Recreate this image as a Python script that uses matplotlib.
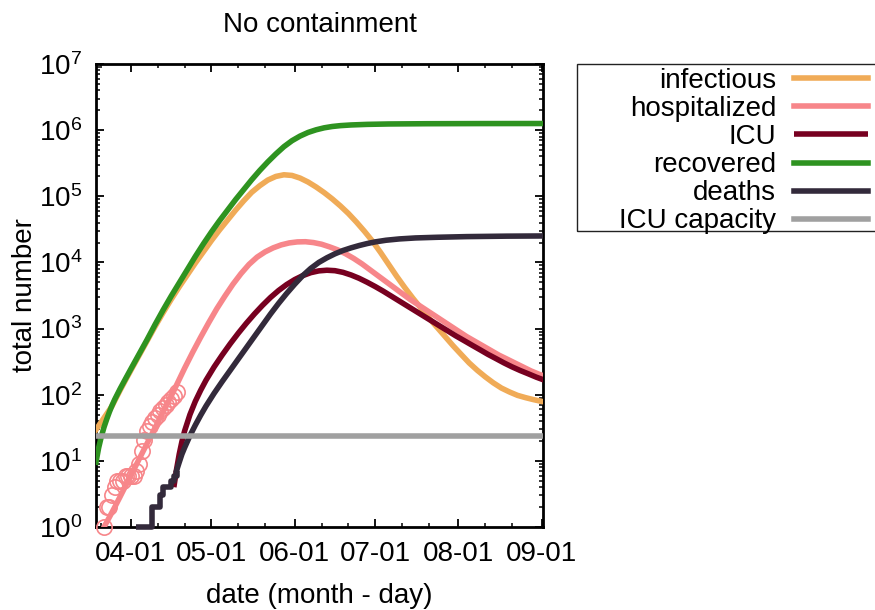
"""No containment scenario: model curves on a log scale."""
import matplotlib

matplotlib.use("Agg")
import matplotlib.dates as mdates  # noqa: E402
import matplotlib.pyplot as plt  # noqa: E402
import numpy as np  # noqa: E402
from matplotlib.patches import Rectangle  # noqa: E402
from matplotlib.ticker import LogLocator, NullFormatter  # noqa: E402

plt.rcParams["font.family"] = ["Liberation Sans", "DejaVu Sans"]
plt.rcParams["mathtext.fontset"] = "custom"
plt.rcParams["mathtext.rm"] = "Liberation Sans"

BASE = np.datetime64("2020-04-01")

# --- data (days counted from 2020-04-01) ---
recovered_days = [-13, -12, -11, -10, -9, -8, -7, -6, -4, -2, 0, 3, 6, 9, 12, 15, 18, 21,
                  24, 27, 30, 33, 36, 39, 42, 45, 48, 51, 54, 57, 60, 63, 66, 69, 72, 75,
                  78, 82, 88, 96, 110, 130, 154]
recovered = [9.55, 15.8, 23.4, 32.4, 42.7, 55, 69.2, 85.1, 123, 174, 245, 407, 676, 1148,
             1905, 3090, 4898, 7762, 12300, 19050, 28840, 42660, 61660, 89130, 125900,
             177800, 245500, 331100, 436500, 562300, 691800, 812800, 922600, 1012000,
             1084000, 1135000, 1169000, 1197000, 1222000, 1239000, 1250000, 1256000,
             1259000]

infectious_days = [-13, -12, -11, -10, -9, -8, -7, -6, -4, -2, 0, 3, 6, 9, 12, 15, 18, 21,
                   24, 27, 30, 33, 36, 39, 42, 45, 48, 51, 54, 57, 60, 63, 66, 69, 72, 75,
                   78, 81, 84, 87, 90, 93, 96, 99, 102, 105, 108, 111, 114, 117, 120, 123,
                   126, 129, 132, 135, 138, 141, 144, 147, 150, 154]
infectious = [29.5, 33.9, 38.9, 44.7, 51.3, 58.9, 67.6, 81.3, 117, 166, 234, 389, 646, 1072,
              1738, 2754, 4266, 6457, 9772, 14450, 21380, 30900, 43650, 61660, 85110,
              114800, 144500, 175800, 199500, 211300, 206500, 188400, 164100, 138000,
              113500, 91200, 71610, 54950, 40740, 29510, 20890, 14130, 9333, 6166, 4169,
              2884, 2042, 1445, 1047, 759, 550, 407, 302, 234, 186, 151, 126, 110, 97.7,
              90.2, 84.1, 77.6]

hosp_days = [-10, -8, -6, -4, -2, 0, 2, 4, 6, 8, 10, 12, 14, 16, 18, 20, 23, 26, 29, 32,
             35, 38, 41, 44, 47, 50, 53, 56, 59, 62, 65, 68, 71, 74, 77, 80, 83, 86, 89,
             92, 95, 98, 101, 104, 107, 110, 113, 116, 119, 122, 125, 128, 131, 134, 137,
             140, 143, 146, 149, 152, 154]
hospitalized = [1, 1.41, 2.0, 2.88, 4.17, 6.03, 8.71, 12.6, 18.2, 26.3, 38.0, 55.0, 79.4,
                115, 170, 251, 437, 741, 1230, 1995, 3090, 4677, 6761, 9333, 12020, 14450,
                16600, 18410, 19720, 20420, 20560, 19950, 18840, 17180, 15490, 13490,
                11480, 9550, 7762, 6310, 5129, 4169, 3388, 2754, 2291, 1905, 1585, 1318,
                1096, 912, 759, 646, 550, 468, 398, 347, 302, 263, 229, 204, 191]

hosp_data_days = list(range(-10, 18))
hosp_data = [1, 2, 2, 3, 4, 5, 5, 5, 6, 6, 6, 6, 7, 9, 14, 21, 28, 34, 39, 44, 50, 56,
             62, 69, 77, 86, 96, 110]

icu_days = [16, 17, 18, 19, 20, 22, 24, 26, 28, 31, 34, 37, 40, 43, 46, 49, 52, 55, 58,
            61, 64, 67, 70, 73, 76, 79, 82, 85, 88, 91, 94, 97, 100, 103, 106, 109, 112,
            115, 118, 121, 124, 127, 130, 133, 136, 139, 142, 145, 148, 151, 154]
icu = [4, 7.4, 12.6, 19.5, 28.2, 50.1, 79.4, 117, 166, 263, 398, 589, 851, 1202, 1660,
       2239, 2951, 3758, 4624, 5495, 6310, 7000, 7447, 7621, 7499, 7079, 6457, 5754, 5012,
       4315, 3673, 3090, 2600, 2188, 1841, 1549, 1303, 1096, 923, 776, 661, 562, 479, 407,
       351, 302, 263, 232, 207, 184, 166]

deaths_early_days = [2, 8, 11, 12, 15, 16, 17]
deaths_early = [1, 2, 3, 4, 5, 6, 7]
deaths_days = [17, 18, 19, 20, 22, 24, 26, 28, 31, 34, 37, 40, 43, 46, 49, 52, 55, 58, 61,
               64, 67, 70, 73, 76, 79, 82, 85, 88, 91, 95, 100, 106, 114, 125, 140, 154]
deaths = [7.1, 9.5, 12.6, 15.8, 24.0, 34.7, 49.0, 67.6, 105, 158, 234, 347, 513, 759, 1122,
          1660, 2399, 3388, 4677, 6310, 8128, 10000, 11750, 13490, 15140, 16600, 17990,
          19280, 20420, 21630, 22650, 23440, 23990, 24550, 24950, 25120]

icu_capacity = 24

labels = ["infectious", "hospitalized", "ICU", "recovered", "deaths", "ICU capacity"]
colors = ["#f0ab57", "#f7868a", "#770020", "#2e9320", "#332a3b", "#a0a0a0"]


def to_dates(days):
    return BASE + np.array(days, dtype="timedelta64[D]")


fig = plt.figure(figsize=(8.75, 6.1), dpi=100)
ax = fig.add_axes([0.1097, 0.1361, 0.5109, 0.7590])

lw = 4
l_inf, = ax.plot(to_dates(infectious_days), infectious, color=colors[0], lw=lw, zorder=3)
l_hosp, = ax.plot(to_dates(hosp_days), hospitalized, color=colors[1], lw=lw, zorder=3)
ax.plot(to_dates(hosp_data_days), hosp_data, "o", ms=11, mfc="none", mec=colors[1],
        mew=1.2, zorder=3, clip_on=False)
l_icu, = ax.plot(to_dates(icu_days), icu, color=colors[2], lw=lw, zorder=3,
                 solid_capstyle="butt")
l_rec, = ax.plot(to_dates(recovered_days), recovered, color=colors[3], lw=lw, zorder=3)
ax.plot(to_dates(deaths_early_days), deaths_early, color=colors[4], lw=lw, zorder=3,
        drawstyle="steps-post", solid_capstyle="butt", clip_on=False)
l_dea, = ax.plot(to_dates(deaths_days), deaths, color=colors[4], lw=lw, zorder=3)
l_cap = ax.axhline(icu_capacity, color=colors[5], lw=lw, zorder=4)

ax.set_yscale("log")
ax.set_ylim(1, 1e7)
ax.set_xlim(BASE - np.timedelta64(13, "D"), BASE + np.timedelta64(153 * 24 + 12, "h"))
ax.yaxis.set_major_locator(LogLocator(base=10, numticks=10))
ax.yaxis.set_minor_locator(LogLocator(base=10, subs=np.arange(2, 10), numticks=20))
ax.yaxis.set_minor_formatter(NullFormatter())
ax.xaxis.set_major_locator(mdates.MonthLocator())
ax.xaxis.set_minor_locator(mdates.DayLocator(bymonthday=[11, 21]))
ax.xaxis.set_major_formatter(mdates.DateFormatter("%m-%d"))

ax.tick_params(which="both", direction="in", top=True, right=True, labelsize=20)
ax.tick_params(which="major", length=6, width=1.3)
ax.tick_params(which="minor", length=3, width=1.1)
ax.tick_params(axis="x", pad=10)
ax.tick_params(axis="y", pad=10)
for sp in ax.spines.values():
    sp.set_linewidth(2)

ax.set_title("No containment", fontsize=20, pad=23)
ax.set_xlabel("date (month - day)", fontsize=20)
ax.set_ylabel("total number", fontsize=20)
ax.xaxis.set_label_coords(0.5, -0.121)
ax.yaxis.set_label_coords(-0.13, 0.5)

leg = fig.legend([l_inf, l_hosp, l_icu, l_rec, l_dea, l_cap], labels, loc="upper right",
                 bbox_to_anchor=(868 / 875, 1 - 68 / 610), frameon=False,
                 markerfirst=False, fontsize=20, handlelength=2.65, handletextpad=0.65,
                 labelspacing=0.075, borderpad=0.0, borderaxespad=0.0)
fig.add_artist(Rectangle((577 / 875, 1 - 231 / 610), 0.36, (231 - 64) / 610,
                         transform=fig.transFigure, fill=False, edgecolor="#222222",
                         lw=1.0))

fig.savefig("out.png", dpi=100)
